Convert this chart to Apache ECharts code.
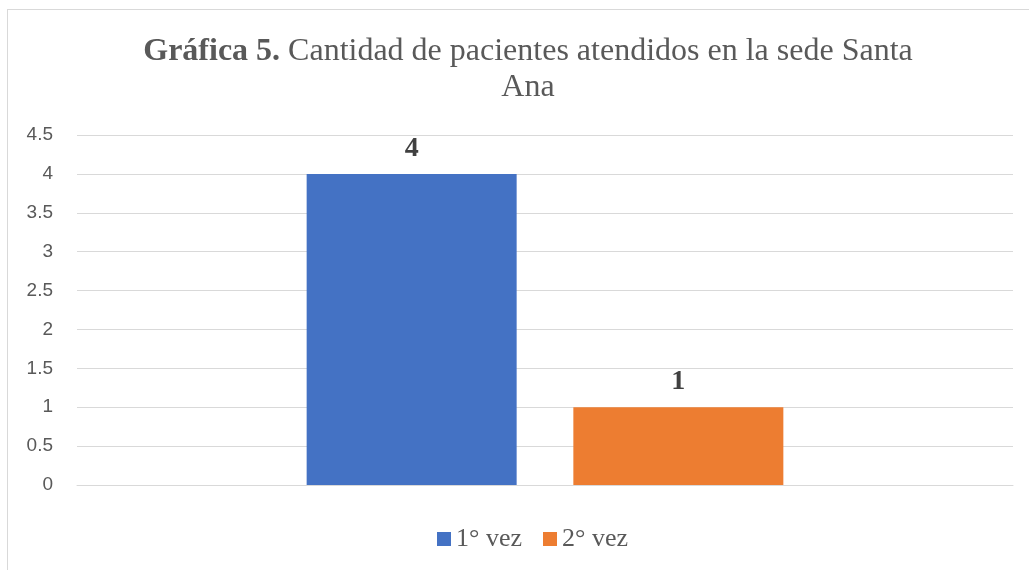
<!DOCTYPE html>
<html>
<head>
<meta charset="utf-8">
<script src="https://cdn.jsdelivr.net/npm/echarts@6/dist/echarts.min.js"></script>
<style>
html,body{margin:0;padding:0;background:#fff;}
#frame{position:absolute;left:7px;top:9px;width:1040px;height:600px;border-left:1px solid #d9d9d9;border-top:1px solid #d9d9d9;box-sizing:border-box;}
#chart{position:absolute;left:0;top:0;width:1029px;height:570px;}
</style>
</head>
<body>
<div id="frame"></div>
<div id="chart"></div>
<script>
const categories = [''];
const seriesNames = ['1° vez', '2° vez'];
const values1 = [4];
const values2 = [1];
const yTicks = [0, 0.5, 1, 1.5, 2, 2.5, 3, 3.5, 4, 4.5];

const chart = echarts.init(document.getElementById('chart'), null, {renderer: 'canvas'});
const serif = '"Liberation Serif", "Times New Roman", serif';
const labelStyle = {show: true, position: 'top', distance: 11, fontFamily: serif, fontWeight: 'bold', fontSize: 28, color: '#404040'};
chart.setOption({
  animation: false,
  backgroundColor: 'transparent',
  title: {
    text: '{b|Gráfica 5.} Cantidad de pacientes atendidos en la sede Santa\nAna',
    left: 523, top: 29, textAlign: 'center',
    textStyle: {fontFamily: serif, fontSize: 32, fontWeight: 'normal', color: '#595959', lineHeight: 36,
      rich: {b: {fontFamily: serif, fontSize: 32, fontWeight: 'bold', color: '#595959', lineHeight: 36}}}
  },
  legend: {
    bottom: 13, left: 432, itemWidth: 14, itemHeight: 14, itemGap: 21,
    icon: 'rect',
    textStyle: {fontFamily: serif, fontSize: 26, color: '#595959'},
    data: seriesNames
  },
  grid: {left: 77, right: 16, top: 135, bottom: 85, containLabel: false},
  xAxis: {
    type: 'category', data: categories,
    axisLine: {show: true, lineStyle: {color: '#d9d9d9', width: 1}},
    axisTick: {show: false}, axisLabel: {show: false}
  },
  yAxis: {
    type: 'value', min: 0, max: yTicks[yTicks.length - 1], interval: 0.5,
    axisLine: {show: false}, axisTick: {show: false},
    axisLabel: {fontFamily: '"Liberation Sans", Arial, sans-serif', fontSize: 19, color: '#595959', margin: 24},
    splitLine: {lineStyle: {color: '#d9d9d9', width: 1}}
  },
  series: [
    {name: seriesNames[0], type: 'bar', data: values1, barWidth: 210, barGap: '27%', itemStyle: {color: '#4472C4'}, label: labelStyle},
    {name: seriesNames[1], type: 'bar', data: values2, barWidth: 210, itemStyle: {color: '#ED7D31'}, label: labelStyle}
  ]
});
</script>
</body>
</html>
